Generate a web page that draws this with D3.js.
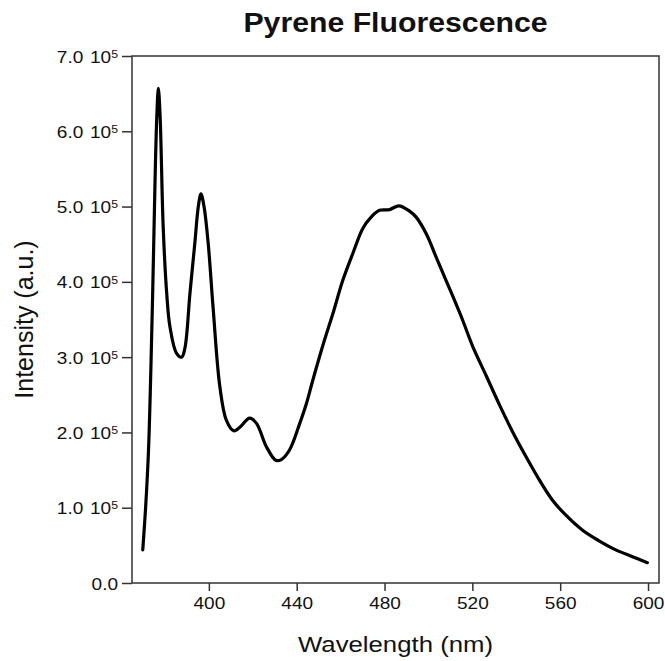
<!DOCTYPE html>
<html>
<head>
<meta charset="utf-8">
<script src="https://cdn.jsdelivr.net/npm/d3@7"></script>
<style>
  html, body { margin:0; padding:0; background:#fff; }
  svg text { font-family: "Liberation Sans", Arial, Helvetica, sans-serif; fill:#111; }
</style>
</head>
<body>
<div id="chart"></div>
<script>
(function(){

/* -------------------------------------------------
   1. DATA – spectrum
   ------------------------------------------------- */
const wavelength = [369.9, 371.2, 372.5, 373.6, 374.6, 375.5, 376.3, 377.0, 377.8, 379.2,
    380.8, 382.3, 385.3, 387.6, 389.1, 391.4, 393.6, 395.2, 396.4,
    397.8, 399.7, 402.0, 405.0, 408.0, 411.4, 414.5, 418.6, 421.7, 426.2,
    430.5, 433.0, 436.8, 441.4, 444.4, 447.4, 452.7, 456.5, 461.0, 465.6,
    470.1, 473.9, 477.7, 482.3, 486.5, 491.4, 494.4, 499.0, 503.5, 508.0,
    511.8, 515.6, 520.2, 526.2, 532.3, 538.3, 544.4, 550.5, 556.5, 562.6,
    570.2, 577.7, 585.3, 592.9, 599.7];

// intensity in units of 10^5
const intensity = [0.44, 1.00, 1.75, 2.85, 4.10, 5.35, 6.20, 6.57, 6.20, 4.73,
    3.85, 3.40, 3.05, 3.00, 3.12, 3.85, 4.51, 5.00, 5.17,
    5.00, 4.51, 3.63, 2.61, 2.16, 2.02, 2.08, 2.19, 2.12, 1.81,
    1.63, 1.64, 1.77, 2.12, 2.38, 2.70, 3.23, 3.58, 4.02, 4.38,
    4.71, 4.86, 4.95, 4.96, 5.01, 4.94, 4.86, 4.64, 4.33, 4.02,
    3.76, 3.49, 3.14, 2.76, 2.37, 2.01, 1.68, 1.37, 1.10, 0.90,
    0.70, 0.56, 0.44, 0.35, 0.27];

const xTicks = [400, 440, 480, 520, 560, 600];
const yTicks = [0, 1, 2, 3, 4, 5, 6, 7];

const data = wavelength.map((w,i) => ({w:w, v:intensity[i]}));

/* -------------------------------------------------
   2. SVG & SCALES
   ------------------------------------------------- */
const width = 665, height = 661;
const margin = {top:56, right:6, bottom:78, left:132};
const stretch = 1.12;   // text in the picture is a bit wide

const svg = d3.select("#chart").append("svg")
    .attr("width", width).attr("height", height);

const x = d3.scaleLinear().domain([365, 605]).range([margin.left, width - margin.right]);
const y = d3.scaleLinear().domain([0, 7]).range([height - margin.bottom, margin.top]);

const axisColor = "#333";

/* -------------------------------------------------
   3. FRAME + AXES
   ------------------------------------------------- */
svg.append("rect")
    .attr("x", x(365)).attr("y", y(7))
    .attr("width", x(605) - x(365)).attr("height", y(0) - y(7))
    .attr("fill", "none").attr("stroke", axisColor).attr("stroke-width", 1.5);

const xAxis = svg.append("g")
    .attr("transform", `translate(0,${y(0)})`)
    .call(d3.axisBottom(x).tickValues(xTicks).tickSize(8).tickPadding(6).tickFormat(d3.format("d")));
xAxis.select(".domain").remove();
xAxis.selectAll("line").attr("stroke", axisColor).attr("stroke-width", 1.5);
xAxis.selectAll("text")
    .style("font-size", "17px").attr("fill", "#111")
    .attr("transform", `scale(${stretch},1)`);

const yAxis = svg.append("g")
    .attr("transform", `translate(${x(365)},0)`)
    .call(d3.axisLeft(y).tickValues(yTicks).tickSize(10).tickPadding(4).tickFormat(""));
yAxis.select(".domain").remove();
yAxis.selectAll("line").attr("stroke", axisColor).attr("stroke-width", 1.5);

// y labels like "7.0 10⁵"
yAxis.selectAll(".tick").each(function(d){
    const t = d3.select(this).append("text")
        .attr("x", -14 / stretch).attr("dy", "0.36em")
        .attr("text-anchor", "end")
        .attr("transform", `scale(${stretch},1)`)
        .style("font-size", "17px")
        .attr("fill", "#111");
    t.append("tspan").text(d === 0 ? "0.0" : d3.format(".1f")(d));
    if (d !== 0) {
        t.append("tspan").attr("dx", 6).text("10");
        t.append("tspan").attr("dy", "-0.45em").style("font-size", "11px").text("5");
    }
});

/* -------------------------------------------------
   4. CURVE
   ------------------------------------------------- */
const line = d3.line()
    .x(d => x(d.w)).y(d => y(d.v))
    .curve(d3.curveCatmullRom.alpha(0.5));

svg.append("path")
    .datum(data)
    .attr("d", line)
    .attr("fill", "none")
    .attr("stroke", "#000")
    .attr("stroke-width", 3.2)
    .attr("stroke-linejoin", "round")
    .attr("stroke-linecap", "round");

/* -------------------------------------------------
   5. TITLES
   ------------------------------------------------- */
const cx = (x(365) + x(605)) / 2;

svg.append("text")
    .attr("transform", `translate(${cx},32) scale(${stretch},1)`)
    .attr("text-anchor", "middle")
    .style("font-size", "27px").style("font-weight", "bold")
    .text("Pyrene Fluorescence");

svg.append("text")
    .attr("transform", `translate(${cx},652) scale(${stretch},1)`)
    .attr("text-anchor", "middle")
    .style("font-size", "23px")
    .text("Wavelength (nm)");

svg.append("text")
    .attr("transform", `translate(33,${(y(0) + y(7)) / 2}) rotate(-90)`)
    .attr("text-anchor", "middle")
    .style("font-size", "25px")
    .text("Intensity (a.u.)");

})();
</script>
</body>
</html>
